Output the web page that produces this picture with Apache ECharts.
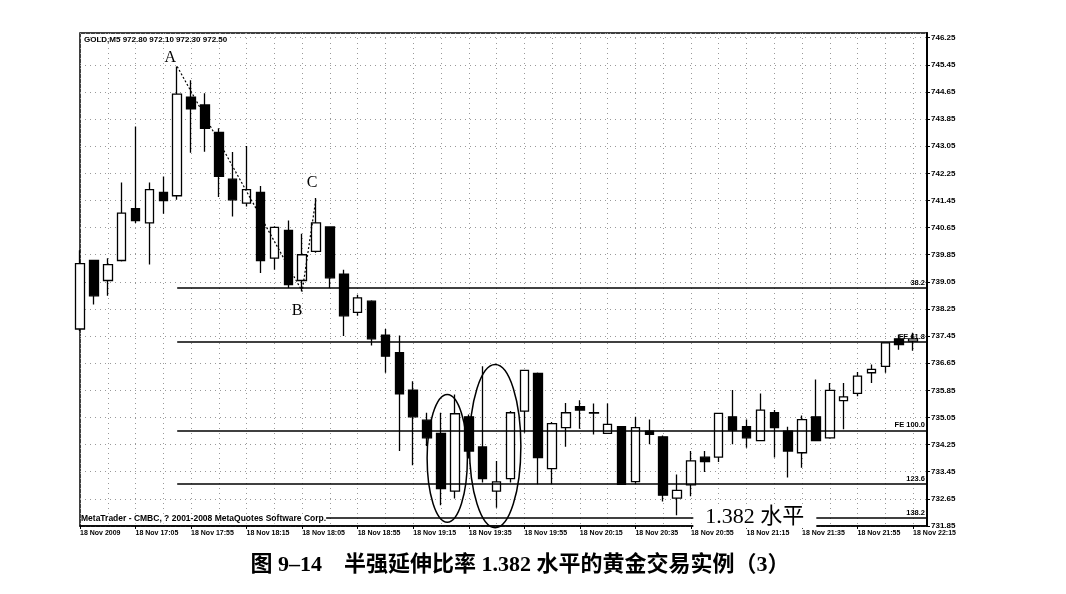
<!DOCTYPE html>
<html><head><meta charset="utf-8">
<script src="https://cdn.jsdelivr.net/npm/echarts@6/dist/echarts.min.js"></script>
<style>html,body{margin:0;padding:0;background:#fff}#c{width:1066px;height:594px}</style>
</head><body><div id="c"></div>
<script>
// ---- data ----
const timeLabels = ['18 Nov 2009','18 Nov 17:05','18 Nov 17:55','18 Nov 18:15','18 Nov 18:05','18 Nov 18:55','18 Nov 19:15','18 Nov 19:35','18 Nov 19:55','18 Nov 20:15','18 Nov 20:35','18 Nov 20:55','18 Nov 21:15','18 Nov 21:35','18 Nov 21:55','18 Nov 22:15'];
const opens  = [737.66,739.68,739.09,739.68,741.21,740.79,741.69,741.59,744.50,744.27,743.46,742.08,741.37,741.69,739.75,740.57,739.09,739.95,740.67,739.28,738.15,738.48,737.48,736.96,735.86,734.97,734.58,732.88,735.07,734.18,732.88,733.25,735.24,736.35,733.54,734.75,735.37,735.18,734.58,734.78,733.16,734.65,734.48,732.67,733.06,733.88,733.88,735.07,734.78,734.37,735.19,734.65,734.01,735.07,734.45,735.55,735.76,736.37,736.56,737.37,737.30];
const closes = [739.59,738.64,739.56,741.08,740.86,741.77,741.45,744.59,744.15,743.58,742.16,741.47,741.77,739.68,740.66,738.97,739.85,740.79,739.17,738.05,738.58,737.37,736.86,735.75,735.07,734.45,732.95,735.16,734.06,733.25,733.15,735.19,736.44,733.87,734.87,735.19,735.27,735.19,734.85,733.08,734.75,734.55,732.76,732.90,733.77,733.75,735.17,734.68,734.45,735.27,734.75,734.06,734.99,734.37,735.85,735.66,736.27,736.47,737.25,737.20,737.37];
const lows   = [737.60,738.38,738.64,739.65,740.79,739.56,741.06,741.47,742.86,742.89,741.55,740.98,741.27,739.31,739.41,738.87,738.77,739.91,738.87,737.45,738.05,737.17,736.37,734.06,733.64,734.21,732.46,732.66,733.84,733.13,732.39,733.13,734.60,733.08,733.08,734.19,734.72,734.55,734.56,733.06,733.08,734.26,732.57,732.17,732.73,733.44,733.74,734.26,734.16,734.35,733.87,733.28,733.57,734.35,734.42,734.70,735.68,736.07,736.37,737.05,737.02];
const highs  = [739.98,739.70,739.75,741.98,743.63,741.98,742.16,745.40,745.00,744.61,743.58,742.88,743.06,741.88,740.69,740.86,740.47,741.52,740.68,739.41,738.67,738.51,737.66,737.47,736.12,735.19,735.19,735.73,735.14,736.56,733.77,735.24,736.46,736.38,734.92,735.48,735.56,735.46,735.46,734.80,735.07,734.99,734.52,733.37,734.06,734.06,735.18,735.86,734.99,735.76,735.27,734.78,735.11,736.17,736.07,736.07,736.39,736.61,737.26,737.50,737.55];
const fibLevels = [738.87, 737.29, 734.67, 733.09, 732.08];
const fibNames  = ['38.2', 'FE 61.8', 'FE 100.0', '123.6', '138.2'];
const fibStartIndex = 7;
const swingPoints = [[7, 745.40, 'A'], [16, 738.77, 'B'], [17, 741.52, 'C']];
// ellipses: [center index, half width in bars, top price, bottom price]
const ellipses = [[26.45, 1.45, 735.73, 731.96], [29.9, 1.85, 736.61, 731.80]];
const yMin = 731.85, yMax = 746.39, yStep = 0.8;
const headerText = 'GOLD,M5 972.80 972.10 972.30 972.50';
const footerText = 'MetaTrader - CMBC, ? 2001-2008 MetaQuotes Software Corp.';
const noteText = '1.382 水平';
const noteIndex = 48.6;
const titleText = '图 9–14　半强延伸比率 1.382 水平的黄金交易实例（3）';

// ---- chart ----
const slotCount = 62;
const categories = Array.from({length: slotCount}, (_, i) => 'c' + i);
const candleData = opens.map((o, i) => [o, closes[i], lows[i], highs[i]]);
const smallFont = "'Liberation Sans', Arial, sans-serif";
const serifFont = "'Liberation Serif', 'Times New Roman', 'Noto Sans CJK SC', serif";

const chart = echarts.init(document.getElementById('c'));
const option = {
  animation: false,
  backgroundColor: '#fff',
  grid: {left: 80, right: 139, top: 33, bottom: 68, show: true, borderColor: '#000', borderWidth: 1.5},
  xAxis: {
    type: 'category', data: categories, boundaryGap: false,
    axisLine: {show: true, lineStyle: {color: '#000', width: 1.5}},
    axisTick: {show: true, interval: 3, length: 3, lineStyle: {color: '#000'}},
    axisLabel: {interval: 3, align: 'left', margin: 4, fontSize: 7, fontWeight: 'bold', fontFamily: smallFont, color: '#000',
      formatter: (v, idx) => (idx % 4 === 0 && timeLabels[idx / 4]) ? timeLabels[idx / 4] : ''},
    splitLine: {show: true, interval: 1, lineStyle: {color: '#999', type: [1, 4], width: 1}}
  },
  yAxis: {
    type: 'value', position: 'right', min: yMin, max: yMax, interval: yStep,
    axisLine: {show: true, lineStyle: {color: '#000', width: 2}},
    axisTick: {show: true, length: 3, lineStyle: {color: '#000'}},
    axisLabel: {showMaxLabel: false, margin: 4, fontSize: 8, fontWeight: 'bold', fontFamily: smallFont, color: '#000',
      formatter: v => v.toFixed(2)},
    splitLine: {show: true, lineStyle: {color: '#999', type: [1, 4], width: 1}}
  },
  series: [
    {
      type: 'candlestick', data: candleData, barWidth: 9, clip: true,
      itemStyle: {color: '#fff', color0: '#000', borderColor: '#000', borderColor0: '#000', borderWidth: 1.3},
      markLine: {
        silent: true, symbol: ['none', 'none'], animation: false,
        lineStyle: {color: '#000', width: 1.5, type: 'solid'},
        label: {show: true, position: 'insideEndTop', distance: [2, 1], formatter: '{b}', fontSize: 7.5, fontWeight: 'bold', fontFamily: smallFont, color: '#000'},
        emphasis: {disabled: true},
        data: fibLevels.map((lv, i) => [{coord: [fibStartIndex, lv], name: fibNames[i]}, {coord: [slotCount - 1, lv]}])
      },
      markPoint: {
        silent: true, symbol: 'circle', symbolSize: 1, itemStyle: {color: 'rgba(0,0,0,0)'},
        label: {show: true, formatter: '{b}', fontSize: 16, fontFamily: serifFont, color: '#000'},
        data: swingPoints.map((p, i) => ({name: p[2], coord: [p[0], p[1]],
          label: {offset: i === 0 ? [-7, -9] : (i === 1 ? [-5, 19] : [-4, -15])}}))
      }
    },
    {
      type: 'line', data: swingPoints.map(p => [p[0], p[1]]), symbol: 'none', silent: true,
      lineStyle: {color: '#000', width: 1.2, type: [2, 2]}, z: 3
    }
  ]
};
chart.setOption(option);

const xAt = f => {
  const i0 = Math.floor(f);
  const a = chart.convertToPixel({xAxisIndex: 0}, i0);
  const b = chart.convertToPixel({xAxisIndex: 0}, i0 + 1);
  return a + (f - i0) * (b - a);
};
const yAt = v => chart.convertToPixel({yAxisIndex: 0}, v);

const graphics = [];
ellipses.forEach(e => {
  const cx = xAt(e[0]);
  const rx = xAt(e[0] + e[1]) - cx;
  const yt = yAt(e[2]), yb = yAt(e[3]);
  graphics.push({type: 'ellipse', silent: true, z: 20,
    shape: {cx: cx, cy: (yt + yb) / 2, rx: rx, ry: (yb - yt) / 2},
    style: {fill: 'none', stroke: '#000', lineWidth: 1.5}});
});
graphics.push({type: 'text', silent: true, z: 30, x: xAt(noteIndex), y: yAt(fibLevels[4]) - 1,
  style: {text: noteText, align: 'center', verticalAlign: 'middle', font: "22px " + serifFont, fill: '#000', backgroundColor: '#fff', padding: [0, 12]}});
graphics.push({type: 'text', silent: true, z: 30, x: 84, y: 40,
  style: {text: headerText, align: 'left', verticalAlign: 'middle', font: "bold 8px " + smallFont, fill: '#000'}});
graphics.push({type: 'text', silent: true, z: 30, x: 81, y: 519,
  style: {text: footerText, align: 'left', verticalAlign: 'middle', font: "bold 8.5px " + smallFont, fill: '#000', backgroundColor: '#fff'}});
graphics.push({type: 'text', silent: true, z: 30, x: 520, y: 565,
  style: {text: titleText, align: 'center', verticalAlign: 'middle', font: "bold 22px " + serifFont, fill: '#000'}});
chart.setOption({graphic: graphics});
</script>
</body></html>
